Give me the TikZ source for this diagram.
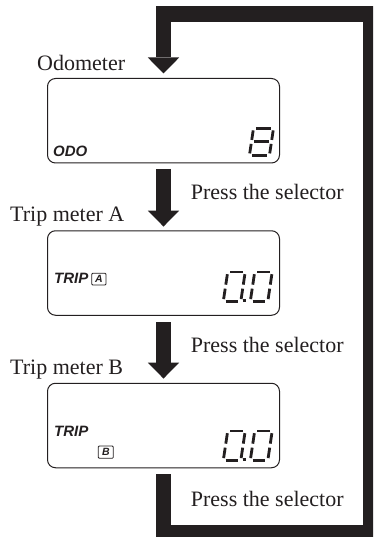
\documentclass[tikz,border=0pt]{standalone}
\usepackage{fontspec}
\setmainfont{Liberation Serif}
\setsansfont{Liberation Sans}
\usetikzlibrary{arrows.meta}
\definecolor{ink}{HTML}{231F20}
\tikzset{
  lcdbox/.style={draw=ink, line width=1pt, rounded corners=8pt, minimum width=232pt,
    minimum height=84.5pt, inner sep=0pt},
  caption/.style={anchor=base west, inner sep=0pt, text=ink,
    font=\fontsize{22}{26}\selectfont},
  tag/.style={anchor=base west, inner sep=0pt, text=ink,
    font=\sffamily\bfseries\itshape\fontsize{15}{18}\selectfont},
  flow/.style={draw=ink, line width=15.7pt,
    -{Triangle[width=31.4pt,length=16pt,line width=0pt]}},
  seg/.style={draw=ink, line width=2.8pt},
  minibox/.style={draw=ink, line width=0.8pt, rounded corners=1pt, inner sep=0pt,
    text=ink, font=\sffamily\bfseries\itshape\fontsize{10.5}{11}\selectfont},
}
% segments a-f of a slanted seven-segment digit; #1,#2 bottom-left, #3 width, #4 height
\newcommand\lcdglyph[4]{%
  \begin{scope}[shift={(#1,#2)}, x={(1pt,0pt)}, y={(0.15pt,1pt)}]
    \draw[seg] (2.4,#4) -- ({#3-2.4},#4);
    \draw[seg] (#3,{#4-2.2}) -- (#3,{#4/2+2});
    \draw[seg] (#3,{#4/2-2}) -- (#3,2.2);
    \draw[seg] (2.4,0) -- ({#3-2.4},0);
    \draw[seg] (0,2.2) -- (0,{#4/2-2});
    \draw[seg] (0,{#4/2+2}) -- (0,{#4-2.2});
  \end{scope}}
% middle segment g
\newcommand\lcdbar[4]{%
  \begin{scope}[shift={(#1,#2)}, x={(1pt,0pt)}, y={(0.15pt,1pt)}]
    \draw[seg] (2.4,{#4/2}) -- ({#3-2.4},{#4/2});
  \end{scope}}
\begin{document}
\begin{tikzpicture}[x=1pt, y=-1pt]
  \useasboundingbox (0,0) rectangle (373,537);
  \clip (0,0) rectangle (373,537);

  % display boxes
  \node[lcdbox] (b1) at (163.5,120.75) {};
  \node[lcdbox] (b2) at (163.5,273) {};
  \node[lcdbox] (b3) at (163.5,425.5) {};

  % captions
  \node[caption] (t1) at (37,71) {Odometer};
  \node[caption] (t2) at (10,221.7) {Trip meter A};
  \node[caption] (t3) at (10,374) {Trip meter B};
  \node[caption] (p1) at (190.7,199.3) {Press the selector};
  \node[caption] (p2) at (190.7,352.7) {Press the selector};
  \node[caption] (p3) at (190.7,506.7) {Press the selector};

  % flow arrows
  \coordinate (lowR) at (371.15,532.85);
  \coordinate (topR) at (371.15,13.85);
  \draw[flow, shorten <=5.8pt, shorten >=4.5pt]
    (b3.south) |- (lowR) -- (topR) -| (b1.north);
  \draw[flow, shorten <=5.3pt, shorten >=3.7pt] (b1.south) -- (b2.north);
  \draw[flow, shorten <=6.7pt, shorten >=4.2pt] (b2.south) -- (b3.north);

  % box 1 contents
  \node[tag] (odo) at (53,156.7) {ODO};
  \lcdglyph{249.4}{155.6}{20}{27.4}
  \lcdbar{249.4}{155.6}{20}{27.4}

  % box 2 contents
  \node[tag] (tripa) at (54,283.3) {TRIP};
  \node[minibox, minimum width=14.3pt, minimum height=11.7pt] (ma) at (98.85,279.15) {A};
  \lcdglyph{223.3}{301.3}{17.5}{29.3}
  \fill[ink] (243.2,298.9) rectangle ++(3,3);
  \lcdglyph{250.3}{301.3}{17.5}{29.3}

  % box 3 contents
  \node[tag] (tripb) at (54,436.7) {TRIP};
  \node[minibox, minimum width=15pt, minimum height=12.3pt] (mb) at (105.8,452.15) {B};
  \lcdglyph{223.3}{460.3}{17.5}{29.3}
  \fill[ink] (243.2,457.9) rectangle ++(3,3);
  \lcdglyph{250.3}{460.3}{17.5}{29.3}
\end{tikzpicture}
\end{document}
